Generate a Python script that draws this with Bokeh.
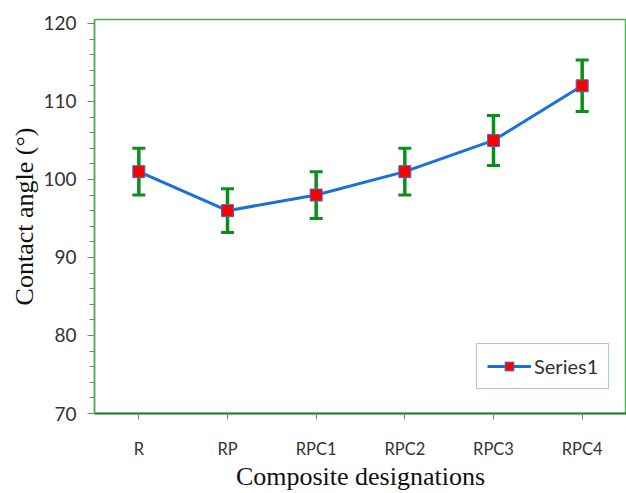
from bokeh.plotting import figure
from bokeh.models import FactorRange, Range1d, ColumnDataSource, Whisker, TeeHead, FixedTicker, Legend, LegendItem
from bokeh.embed import file_html
from bokeh.resources import INLINE

categories = ["R", "RP", "RPC1", "RPC2", "RPC3", "RPC4"]
contact_angle = [101, 96, 98, 101, 105, 112]
error = [3.0, 2.8, 3.0, 3.0, 3.2, 3.3]
y_ticks = [70, 80, 90, 100, 110, 120]

upper = [v + e for v, e in zip(contact_angle, error)]
lower = [v - e for v, e in zip(contact_angle, error)]
src = ColumnDataSource(dict(x=categories, y=contact_angle, upper=upper, lower=lower))

p = figure(width=626, height=493, x_range=FactorRange(factors=categories, range_padding=0),
           y_range=Range1d(70, 120.5), output_backend="svg", toolbar_location=None,
           min_border_left=94, min_border_right=0, min_border_top=19, min_border_bottom=80)

p.xgrid.grid_line_color = None
p.ygrid.grid_line_color = None
p.outline_line_color = "#4CAF50"
p.outline_line_width = 1.5

# Y axis
p.yaxis.ticker = FixedTicker(ticks=y_ticks, minor_ticks=list(range(70, 121, 2)))
p.yaxis.axis_line_color = "#4CAF50"
p.yaxis.axis_line_width = 1.5
p.yaxis.major_tick_line_color = "#808080"
p.yaxis.minor_tick_line_color = "#808080"
p.yaxis.major_tick_out = 7
p.yaxis.major_tick_in = 0
p.yaxis.minor_tick_out = 5
p.yaxis.minor_tick_in = 0
p.yaxis.major_label_text_font = "Lato"
p.yaxis.major_label_text_font_size = "19px"
p.yaxis.major_label_text_color = "#333333"
p.yaxis.major_label_standoff = 11
p.yaxis.axis_label = "Contact angle (°)"
p.yaxis.axis_label_text_font = "Liberation Serif"
p.yaxis.axis_label_text_font_style = "normal"
p.yaxis.axis_label_text_font_size = "26px"
p.yaxis.axis_label_text_color = "#111111"
p.yaxis.axis_label_standoff = 1

# X axis
p.xaxis.axis_line_color = "#2E7D32"
p.xaxis.axis_line_width = 2
p.xaxis.major_tick_line_color = "#808080"
p.xaxis.major_tick_out = 6
p.xaxis.major_tick_in = 0
p.xaxis.major_label_text_font = "Lato"
p.xaxis.major_label_text_font_size = "16.5px"
p.xaxis.major_label_text_color = "#333333"
p.xaxis.major_label_standoff = 19
p.xaxis.axis_label = "Composite designations"
p.xaxis.axis_label_text_font = "Liberation Serif"
p.xaxis.axis_label_text_font_style = "normal"
p.xaxis.axis_label_text_font_size = "26px"
p.xaxis.axis_label_text_color = "#111111"
p.xaxis.axis_label_standoff = 0

# Error bars
wh = Whisker(base="x", upper="upper", lower="lower", source=src,
             line_color="#0A8F1A", line_width=3.5,
             upper_head=TeeHead(size=13, line_color="#0A8F1A", line_width=3),
             lower_head=TeeHead(size=13, line_color="#0A8F1A", line_width=3))
p.add_layout(wh)

ln = p.line("x", "y", source=src, line_color="#1C6FD6", line_width=3)
sq = p.scatter("x", "y", source=src, marker="square", size=12,
               fill_color="#FF0000", line_color="#3A6FD0", line_width=1)

legend = Legend(items=[LegendItem(label="Series1", renderers=[ln, sq])],
                location=(382, 24), border_line_color="#4CAF50", border_line_width=1.5,
                label_text_font="Lato", label_text_font_size="20px", label_text_color="#333333",
                glyph_width=44, glyph_height=22, label_standoff=3, padding=10, margin=0,
                background_fill_alpha=1)
p.add_layout(legend, "center")

open("out.html", "w").write(file_html(p, INLINE))
